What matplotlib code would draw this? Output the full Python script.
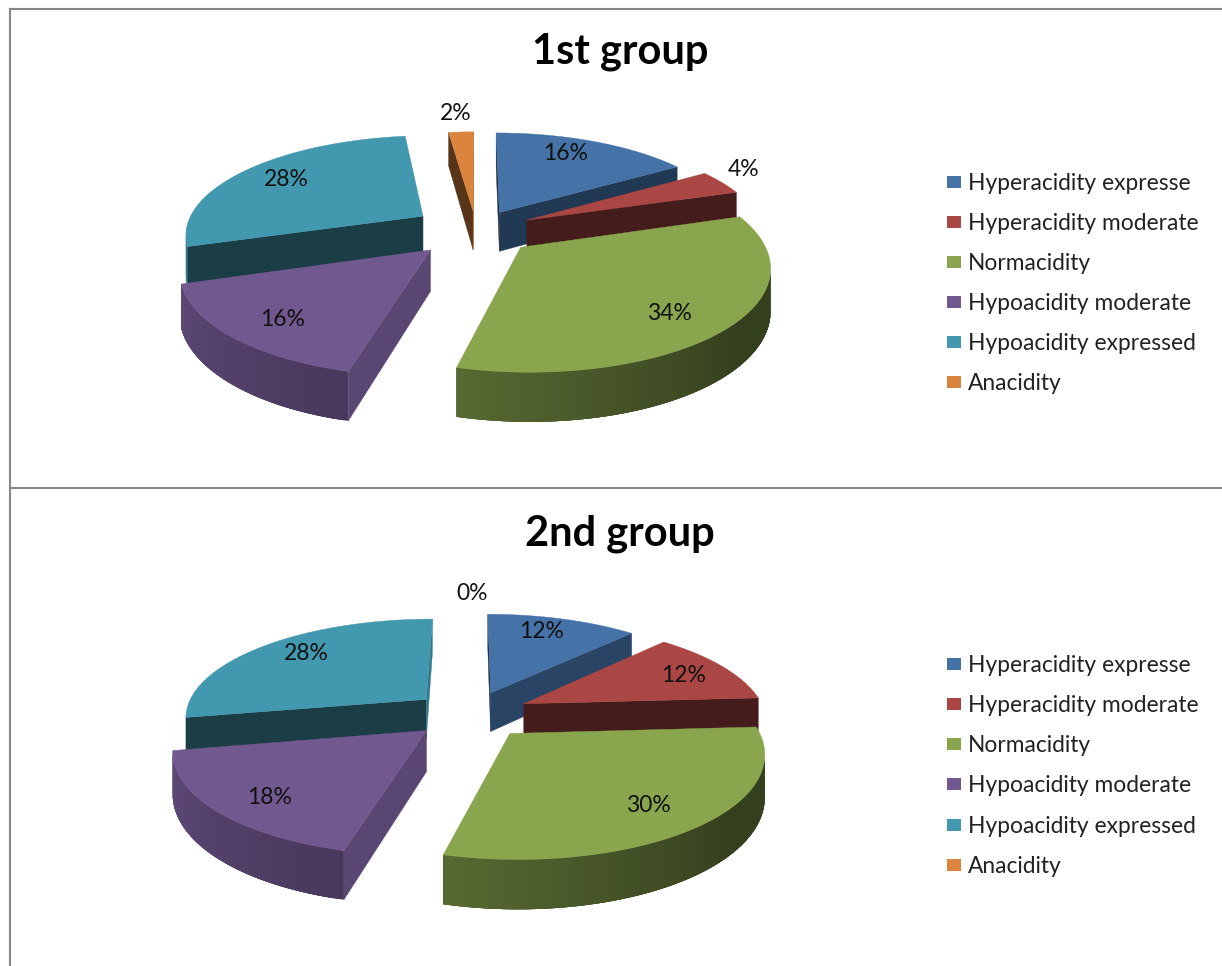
import numpy as np
import matplotlib
matplotlib.use("Agg")
import matplotlib.pyplot as plt
from matplotlib.patches import Polygon, Rectangle

# Chart data
categories = ["Hyperacidity expresse", "Hyperacidity moderate", "Normacidity",
              "Hypoacidity moderate", "Hypoacidity expressed", "Anacidity"]
group1_values = [16, 4, 34, 16, 28, 2]
group2_values = [12, 12, 30, 18, 28, 0]
colors = ["#4572a7", "#aa4643", "#89a54e", "#71588f", "#4198af", "#db843d"]

# Layout of the two pies, in pixels of the 1222x966 picture
group1_style = {
    "title": "1st group", "title_y": 52, "center": (476, 230), "rx": 238,
    "explode": [0.21, 0.24, 0.25, 0.27, 0.27, 0.2],
    "labels": [(566, 154), (744, 169), (669, 314), (283, 319), (286, 179), (456, 113)],
    "legend_y": [182, 222, 262, 302, 342, 382],
}
group2_style = {
    "title": "2nd group", "title_y": 534, "center": (470, 714), "rx": 242,
    "explode": [0.24, 0.25, 0.25, 0.24, 0.24, 0.27],
    "labels": [(542, 632), (684, 675), (648, 806), (270, 797), (306, 653), (472, 593)],
    "legend_y": [664, 704, 744, 784, 825, 865],
}

RY, PERSP, DEPTH = 98, 0.165, 40


def project(cx, cy, rx, x, y, h):
    # x to the right, y to the back, h downwards
    d = 1 + PERSP * y
    return cx + rx * x / d, cy - RY * y / d + h / d


def shade(color, f):
    rgb = np.array(matplotlib.colors.to_rgb(color))
    return tuple(rgb * f)


def area(pts):
    p = np.array(pts)
    return 0.5 * np.sum(p[:, 0] * np.roll(p[:, 1], -1) - np.roll(p[:, 0], -1) * p[:, 1])


def add_face(ax, pts, color, lw=0.3):
    ax.add_patch(Polygon(pts, closed=True, facecolor=color, edgecolor=color, lw=lw))


def draw_wedge(ax, cx, cy, rx, start, end, explode, color):
    mid = (start + end) / 2
    ex = explode * np.sin(mid)
    ey = explode * np.cos(mid)
    theta = np.linspace(start, end, max(int((end - start) * 60), 2))
    top = [project(cx, cy, rx, ex + np.sin(t), ey + np.cos(t), 0) for t in theta]
    bottom = [project(cx, cy, rx, ex + np.sin(t), ey + np.cos(t), DEPTH) for t in theta]
    apex_top = project(cx, cy, rx, ex, ey, 0)
    apex_bottom = project(cx, cy, rx, ex, ey, DEPTH)

    # outer rim with a stepped gradient, each step overlapping the one before
    steps = [j for j in range(len(theta) - 1)
             if area([top[j], top[j + 1], bottom[j + 1], bottom[j]]) < 0]
    for j in steps:
        deg = np.degrees((theta[j] + theta[j + 1]) / 2)
        f = np.interp(deg, [90, 130, 195, 255, 270], [0.38, 0.38, 0.64, 0.83, 0.85])
        k = min(j + 4, steps[-1] + 1)
        quad = top[j:k + 1] + bottom[j:k + 1][::-1]
        add_face(ax, quad, shade(color, f), lw=0)

    # cut faces, drawn only when they look towards the viewer
    for i, normal in ((0, start - np.pi / 2), (-1, end + np.pi / 2)):
        quad = [apex_top, top[i], bottom[i], apex_bottom]
        s = area(quad) if i == 0 else -area(quad)
        if s < 0:
            n = np.degrees(normal) % 360
            f = np.interp(n, [104, 133, 147, 162], [0.8, 0.6, 0.5, 0.4])
            add_face(ax, quad, shade(color, f))

    add_face(ax, [apex_top] + top, color)


def draw_group(ax, values, style):
    cx, cy = style["center"]
    fractions = np.array(values) / sum(values)
    edges = np.concatenate([[0], np.cumsum(fractions)]) * 2 * np.pi

    # back wedges first
    order = sorted(range(len(values)),
                   key=lambda i: -style["explode"][i] * np.cos((edges[i] + edges[i + 1]) / 2))
    for i in order:
        if values[i] > 0:
            draw_wedge(ax, cx, cy, style["rx"], edges[i], edges[i + 1],
                       style["explode"][i], colors[i])

    for value, (x, y) in zip(values, style["labels"]):
        ax.text(x, y, f"{value}%", ha="center", va="center", fontsize=16.5, color="#111111")

    ax.text(620, style["title_y"], style["title"], ha="center", va="center",
            fontsize=30, fontweight="bold", color="black")

    for name, color, y in zip(categories, colors, style["legend_y"]):
        ax.add_patch(Rectangle((947, y - 6), 14, 12, facecolor=color, edgecolor="none"))
        ax.text(968, y + 1.5, name, ha="left", va="center", fontsize=16.4, color="#222222")


def main():
    plt.rcParams["font.family"] = ["Lato", "DejaVu Sans"]
    fig = plt.figure(figsize=(12.22, 9.66), dpi=100)
    ax = fig.add_axes([0, 0, 1, 1])
    ax.set_xlim(0, 1222)
    ax.set_ylim(966, 0)
    ax.axis("off")

    # frame around the charts
    ax.plot([10, 1222], [9, 9], color="#868686", lw=1.5)
    ax.plot([10, 10], [9, 966], color="#868686", lw=1.5)
    ax.plot([10, 1222], [488, 488], color="#868686", lw=1.5)

    draw_group(ax, group1_values, group1_style)
    draw_group(ax, group2_values, group2_style)

    fig.savefig("out.png", dpi=100)
    plt.close(fig)


if __name__ == "__main__":
    main()
